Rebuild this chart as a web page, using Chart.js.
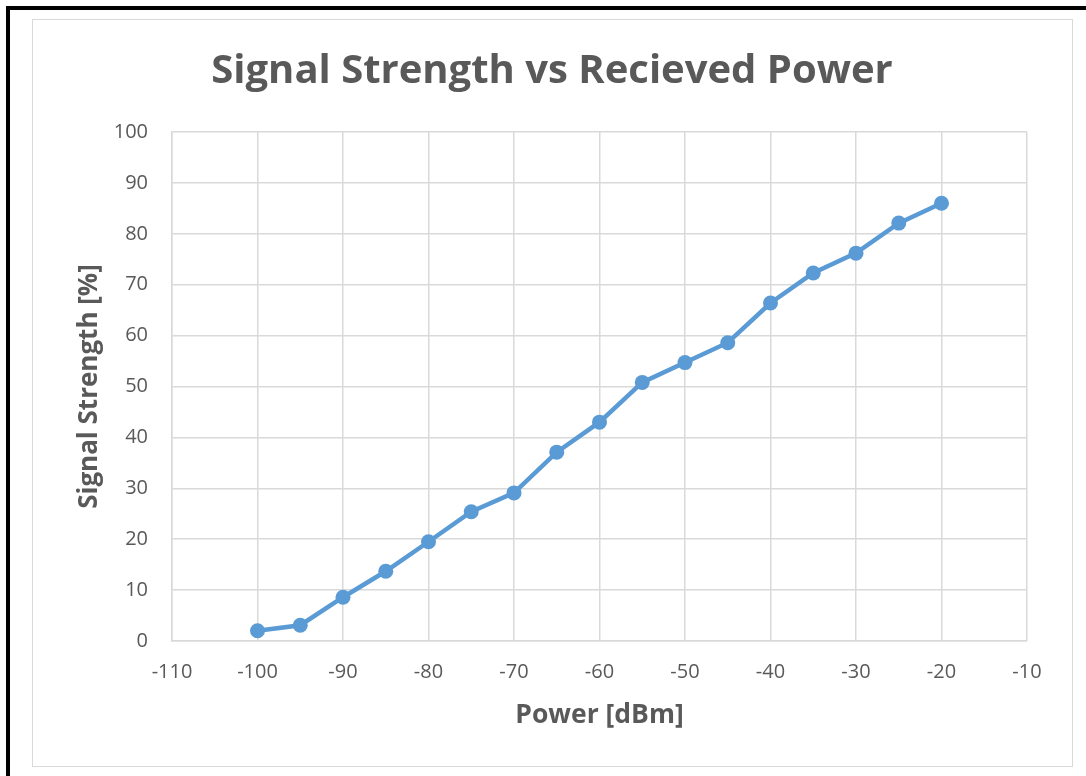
<!DOCTYPE html>
<html>
<head>
<meta charset="utf-8">
<script src="https://cdn.jsdelivr.net/npm/chart.js@4.4.1/dist/chart.umd.min.js"></script>
<style>
  html, body { margin: 0; padding: 0; background: #fff; overflow: hidden; }
  #outer { position: absolute; left: 6px; top: 6px; width: 1200px; height: 900px; border: 4px solid #000; box-sizing: border-box; }
  #inner { position: absolute; left: 32px; top: 19px; width: 1041px; height: 748px; border: 1.5px solid #d9d9d9; box-sizing: border-box; }
  #wrap { position: absolute; left: 0; top: 0; width: 1086px; height: 776px; }
</style>
</head>
<body>
<div id="outer"></div>
<div id="inner"></div>
<div id="wrap"><canvas id="c" width="1086" height="776"></canvas></div>
<script>
const powerDbm = [-100, -95, -90, -85, -80, -75, -70, -65, -60, -55, -50, -45, -40, -35, -30, -25, -20];
const signalStrength = [2.0, 3.1, 8.6, 13.7, 19.5, 25.4, 29.1, 37.1, 43.0, 50.8, 54.7, 58.6, 66.4, 72.3, 76.2, 82.1, 86.0];
const xTicks = [-110, -100, -90, -80, -70, -60, -50, -40, -30, -20, -10];
const yTicks = [0, 10, 20, 30, 40, 50, 60, 70, 80, 90, 100];

const FONT = "'Open Sans', 'Liberation Sans', sans-serif";
const TXT = '#595959';
const GRID = '#d9d9d9';
const BLUE = '#5b9bd5';

const points = powerDbm.map((x, i) => ({ x: x, y: signalStrength[i] }));

new Chart(document.getElementById('c'), {
  type: 'line',
  data: {
    datasets: [{
      data: points,
      borderColor: BLUE,
      backgroundColor: BLUE,
      borderWidth: 4.5,
      pointRadius: 7.5,
      pointHoverRadius: 7.5,
      pointBorderWidth: 0,
      tension: 0,
      fill: false
    }]
  },
  options: {
    responsive: false,
    animation: false,
    devicePixelRatio: 1,
    events: [],
    layout: { padding: { left: 77, right: 59, top: 0, bottom: 0 } },
    plugins: {
      legend: { display: false },
      tooltip: { enabled: false },
      title: {
        display: true,
        text: 'Signal Strength vs Recieved Power',
        color: TXT,
        font: { family: FONT, size: 40, weight: 'bold', lineHeight: 1 },
        padding: { top: 52, bottom: 40 }
      }
    },
    scales: {
      x: {
        type: 'linear',
        min: -110, max: -10,
        afterBuildTicks: (s) => { s.ticks = xTicks.map(v => ({ value: v })); },
        afterFit: (s) => { s.height = 135; },
        grid: { color: GRID, lineWidth: 1.5, drawTicks: false },
        border: { color: GRID, width: 1.5 },
        ticks: { color: TXT, font: { family: FONT, size: 20 }, padding: 19, maxRotation: 0 },
        title: {
          display: true, text: 'Power [dBm]', color: TXT,
          font: { family: FONT, size: 26.5, weight: 'bold', lineHeight: 1.2 },
          padding: { top: 0, bottom: 45 }
        }
      },
      y: {
        type: 'linear',
        min: 0, max: 100,
        afterBuildTicks: (s) => { s.ticks = yTicks.map(v => ({ value: v })); },
        afterFit: (s) => { s.width = 95; },
        grid: { color: GRID, lineWidth: 1.5, drawTicks: false },
        border: { color: GRID, width: 1.5 },
        ticks: { color: TXT, font: { family: FONT, size: 20 }, padding: 24 },
        title: {
          display: true, text: 'Signal Strength [%]', color: TXT,
          font: { family: FONT, size: 26, weight: 'bold', lineHeight: 1 },
          padding: { top: 0, bottom: 0 }
        }
      }
    }
  }
});
</script>
</body>
</html>
